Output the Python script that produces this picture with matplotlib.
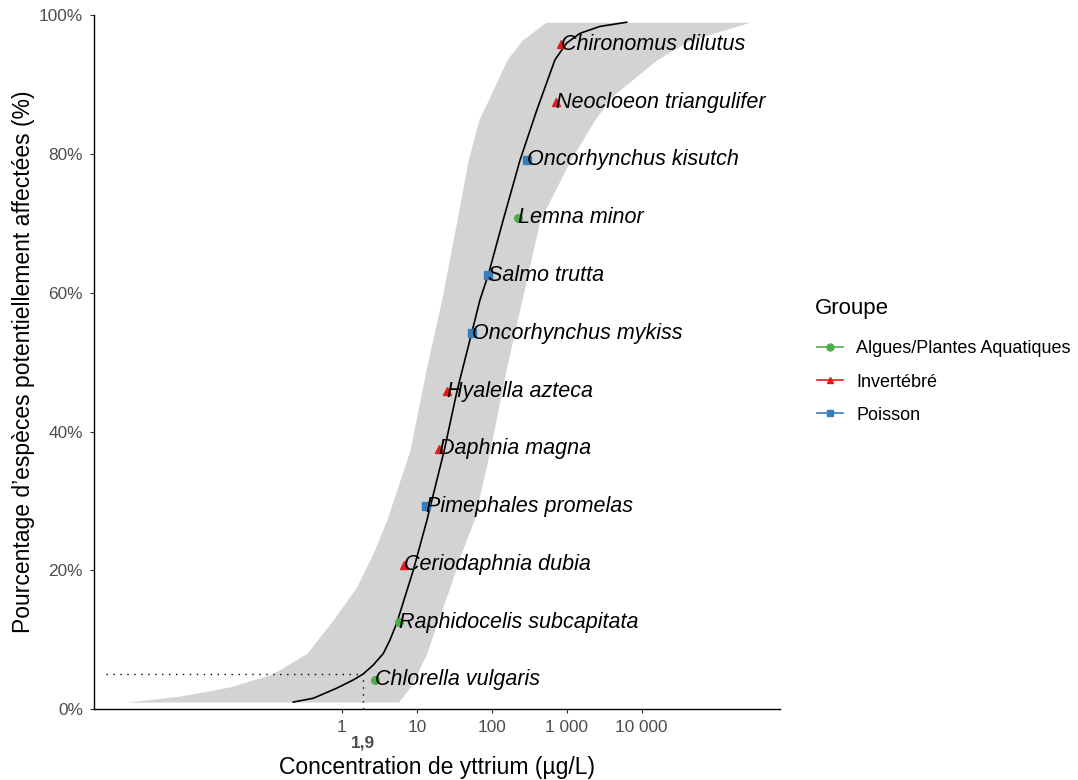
import matplotlib
matplotlib.use("Agg")
import matplotlib.pyplot as plt
from matplotlib.lines import Line2D
from matplotlib.ticker import NullLocator

plt.rcParams['font.family'] = ['Liberation Sans', 'DejaVu Sans']

# species points (concentration in ug/L, plotting position in %)
species = ["Chlorella vulgaris", "Raphidocelis subcapitata", "Ceriodaphnia dubia",
           "Pimephales promelas", "Daphnia magna", "Hyalella azteca",
           "Oncorhynchus mykiss", "Salmo trutta", "Lemna minor",
           "Oncorhynchus kisutch", "Neocloeon triangulifer", "Chironomus dilutus"]
groups = ["Algues/Plantes Aquatiques", "Algues/Plantes Aquatiques", "Invertébré",
          "Poisson", "Invertébré", "Invertébré",
          "Poisson", "Poisson", "Algues/Plantes Aquatiques",
          "Poisson", "Invertébré", "Invertébré"]
conc = [2.76, 5.82, 6.73, 13.2, 19.9, 25.5, 53.9, 89.8, 226, 292, 719, 832]
pct = [4.2, 12.5, 20.8, 29.2, 37.5, 45.8, 54.2, 62.5, 70.8, 79.2, 87.5, 95.8]

# fitted curve
curve_x = [0.224, 0.414, 0.85, 1.42, 1.92, 2.62, 3.56, 4.37, 5.37, 8.95, 13.6, 23.2,
           34.6, 53.9, 69.6, 89.8, 142, 238, 398, 698, 1000, 1505, 2786, 6320]
curve_y = [1.0, 1.55, 3.0, 4.2, 5.05, 6.35, 8.0, 9.95, 12.35, 20.0, 27.2, 37.3,
           46.0, 54.2, 59.0, 62.6, 70.5, 79.1, 86.3, 93.6, 96.0, 97.4, 98.4, 99.0]

# confidence band (x limits at each percentile)
band_y = [1.0, 1.8, 2.5, 3.2, 5.0, 8.0, 12.8, 17.6, 22.4, 27.2, 37.3, 49.3,
          59.0, 70.5, 79.0, 85.0, 88.3, 93.6, 96.4, 99.0]
band_lo = [0.00135, 0.0062, 0.0148, 0.032, 0.115, 0.338, 0.758, 1.57, 2.59, 3.95,
           8.08, 13.5, 21.4, 34.3, 48.1, 67.5, 94.6, 160, 253, 529]
band_hi = [5.65, 6.5, 7.3, 8.1, 9.94, 13.5, 19.1, 27.7, 38.8, 57.8,
           94.6, 158, 253, 441, 1107, 2388, 4027, 16060, 44300, 280000]

hc5 = 1.9
group_names = ["Algues/Plantes Aquatiques", "Invertébré", "Poisson"]
group_colors = {"Algues/Plantes Aquatiques": "#4DAF4A", "Invertébré": "#E41A1C", "Poisson": "#377EB8"}
group_markers = {"Algues/Plantes Aquatiques": "o", "Invertébré": "^", "Poisson": "s"}

xticks = [1, 10, 100, 1000, 10000]
xtick_labels = ["1", "10", "100", "1 000", "10 000"]
yticks = [0, 20, 40, 60, 80, 100]

fig = plt.figure(figsize=(10.78, 7.8), dpi=100)
ax = fig.add_axes([94 / 1078, 1 - 709 / 780, (780 - 94) / 1078, (709 - 15.3) / 780])

ax.fill_betweenx(band_y, band_lo, band_hi, color="#d3d3d3", lw=0, zorder=1)
ax.plot(curve_x, curve_y, color="black", lw=1.2, zorder=3)

# HC5 guide lines
ax.plot([7e-4, hc5], [5, 5], color="black", lw=1.0, ls=(0, (1, 4)), zorder=2)
ax.plot([hc5, hc5], [0, 5], color="black", lw=1.0, ls=(0, (1, 4)), zorder=2)

for g in group_names:
    xs = [c for c, gg in zip(conc, groups) if gg == g]
    ys = [p for p, gg in zip(pct, groups) if gg == g]
    ax.plot(xs, ys, ls="none", marker=group_markers[g], color=group_colors[g],
            ms=5.5, zorder=4)

for name, c, p in zip(species, conc, pct):
    ax.text(c, p, name, fontsize=15.5, style="italic", ha="left", va="center",
            color="black", zorder=5)

ax.set_xscale("log")
ax.set_xlim(10 ** -3.311, 10 ** 5.848)
ax.set_ylim(0, 100)
ax.set_xticks(xticks)
ax.set_xticklabels(xtick_labels)
ax.xaxis.set_minor_locator(NullLocator())
ax.set_yticks(yticks)
ax.set_yticklabels([f"{v}%" for v in yticks])

for s in ["top", "right"]:
    ax.spines[s].set_visible(False)
for s in ["left", "bottom"]:
    ax.spines[s].set_linewidth(1.0)
    ax.spines[s].set_color("black")
ax.tick_params(axis="both", length=3, width=0.8, color="#333333",
               labelcolor="#4d4d4d", labelsize=12.4, pad=5)

ax.annotate("1,9", xy=(hc5, 0), xycoords=("data", "axes fraction"),
            xytext=(0, -24.5), textcoords="offset points", ha="center", va="center",
            fontsize=12.4, fontweight="bold", color="#4d4d4d")

ax.set_xlabel("Concentration de yttrium (µg/L)", fontsize=16.5, labelpad=15)
ax.set_ylabel("Pourcentage d’espèces potentiellement affectées (%)", fontsize=16.5, labelpad=3)

# legend: title drawn on its own so the gap to the first key matches
fig.text(815 / 1078, 1 - 309 / 780, "Groupe", fontsize=16, ha="left", va="center")
handles = [Line2D([0], [0], color=group_colors[g], marker=group_markers[g], ms=5, lw=1.2)
           for g in group_names]
leg = fig.legend(handles, group_names, loc="upper left",
                 bbox_to_anchor=(801 / 1078, 1 - 324 / 780), frameon=False,
                 fontsize=13, handlelength=1.4, handletextpad=0.75,
                 labelspacing=0.9)

fig.savefig("out.png", dpi=100)
